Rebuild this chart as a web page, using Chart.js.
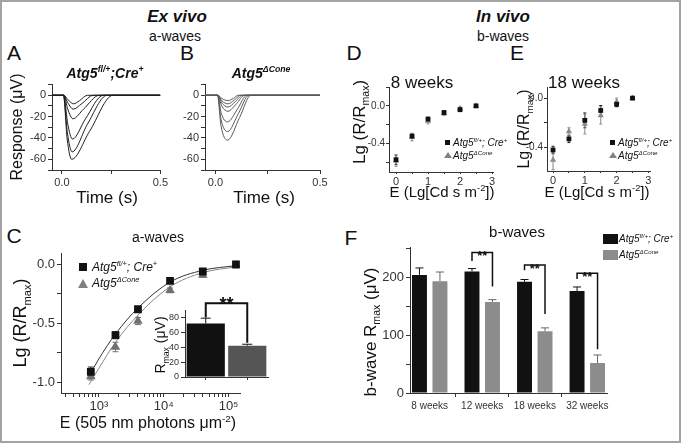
<!DOCTYPE html>
<html>
<head>
<meta charset="utf-8">
<script src="https://cdn.jsdelivr.net/npm/chart.js@4"></script>
<style>
  body { margin: 0; background: #fff; }
  #fig { position: relative; width: 681px; height: 443px; overflow: hidden; background: #fff;
         font-family: "Liberation Sans", Arial, sans-serif; color: #111; }
  #frame { position: absolute; left: 0; top: 0; width: 681px; height: 443px; box-sizing: border-box;
           border: 2px solid #a3a3a3; pointer-events: none; }
  canvas { position: absolute; }
  .t { position: absolute; white-space: nowrap; transform: translate(-50%, -50%); line-height: 1; }
  .rot { transform: translate(-50%, -50%) rotate(-90deg); }
  .l { position: absolute; white-space: nowrap; transform: translateY(-50%); line-height: 1; font-style: italic; }
  sup, sub { font-size: 62%; line-height: 0; }
  .bi { font-weight: bold; font-style: italic; }
  .sq { position: absolute; background: #111; }
  .tri { position: absolute; width: 0; height: 0; border-style: solid; border-color: transparent transparent #808080 transparent; }
</style>
</head>
<body>
<div id="fig">
  <canvas id="chartA"></canvas>
  <canvas id="chartB"></canvas>
  <canvas id="chartC"></canvas>
  <canvas id="chartInset"></canvas>
  <canvas id="chartD"></canvas>
  <canvas id="chartE"></canvas>
  <canvas id="chartF"></canvas>

  <!-- headings -->
  <div class="t bi" style="left:177px;top:16px;font-size:17px;">Ex vivo</div>
  <div class="t" style="left:175px;top:36px;font-size:14px;">a-waves</div>
  <div class="t bi" style="left:503px;top:16px;font-size:17px;">In vivo</div>
  <div class="t" style="left:503px;top:36px;font-size:14px;">b-waves</div>

  <div class="t" style="left:14px;top:52px;font-size:21px;">A</div>
  <div class="t" style="left:187px;top:52px;font-size:21px;">B</div>
  <div class="t" style="left:354px;top:52px;font-size:21px;">D</div>
  <div class="t" style="left:517px;top:52px;font-size:21px;">E</div>
  <div class="t" style="left:14px;top:235px;font-size:21px;">C</div>
  <div class="t" style="left:351px;top:237px;font-size:21px;">F</div>

  <div class="t bi" style="left:105px;top:73px;font-size:14px;">Atg5<sup>fl/+</sup>;Cre<sup>+</sup></div>
  <div class="t bi" style="left:261px;top:73px;font-size:14px;">Atg5<sup>ΔCone</sup></div>
  <div class="t" style="left:158px;top:237px;font-size:14px;">a-waves</div>
  <div class="t" style="left:422px;top:82px;font-size:17px;">8 weeks</div>
  <div class="t" style="left:584px;top:82px;font-size:17px;">18 weeks</div>
  <div class="t" style="left:517px;top:231px;font-size:15px;">b-waves</div>

  <!-- axis titles -->
  <div class="t rot" style="left:17px;top:127px;font-size:16px;">Response (μV)</div>
  <div class="t" style="left:107px;top:197px;font-size:17px;">Time (s)</div>
  <div class="t" style="left:264px;top:197px;font-size:17px;">Time (s)</div>
  <div class="t rot" style="left:20px;top:323px;font-size:18px;">Lg (R/R<sub>max</sub>)</div>
  <div class="t" style="left:148px;top:423px;font-size:16px;">E (505 nm photons μm<sup>-2</sup>)</div>
  <div class="t rot" style="left:160px;top:345px;font-size:14px;">R<sub>max</sub> (μV)</div>
  <div class="t rot" style="left:359px;top:122px;font-size:17px;">Lg (R/R<sub>max</sub>)</div>
  <div class="t" style="left:442px;top:191px;font-size:15px;">E (Lg[Cd s m<sup>-2</sup>])</div>
  <div class="t rot" style="left:524px;top:129px;font-size:16px;">Lg (R/R<sub>max</sub>)</div>
  <div class="t" style="left:597px;top:191px;font-size:15px;">E (Lg[Cd s m<sup>-2</sup>])</div>
  <div class="t rot" style="left:370px;top:332px;font-size:17px;">b-wave R<sub>max</sub> (μV)</div>

  <!-- legends -->
  <div class="sq" style="left:79px;top:263px;width:8px;height:8px;"></div>
  <div class="l" style="left:92px;top:267px;font-size:12px;">Atg5<sup>fl/+</sup>; Cre<sup>+</sup></div>
  <div class="tri" style="left:78px;top:279px;border-width:0 5px 9px 5px;"></div>
  <div class="l" style="left:92px;top:283px;font-size:12px;">Atg5<sup>ΔCone</sup></div>

  <div class="sq" style="left:445px;top:140px;width:5px;height:5px;"></div>
  <div class="l" style="left:453px;top:143px;font-size:10px;">Atg5<sup>fl/+</sup>; Cre<sup>+</sup></div>
  <div class="tri" style="left:444px;top:152px;border-width:0 4px 6px 4px;"></div>
  <div class="l" style="left:453px;top:156px;font-size:10px;">Atg5<sup>ΔCone</sup></div>

  <div class="sq" style="left:610px;top:140px;width:5px;height:5px;"></div>
  <div class="l" style="left:618px;top:143px;font-size:10px;">Atg5<sup>fl/+</sup>; Cre<sup>+</sup></div>
  <div class="tri" style="left:609px;top:152px;border-width:0 4px 6px 4px;"></div>
  <div class="l" style="left:618px;top:156px;font-size:10px;">Atg5<sup>ΔCone</sup></div>

  <div class="sq" style="left:603px;top:234px;width:15px;height:10px;"></div>
  <div class="l" style="left:619px;top:239px;font-size:10px;">Atg5<sup>fl/+</sup>; Cre<sup>+</sup></div>
  <div class="sq" style="left:603px;top:250px;width:15px;height:10px;background:#8c8c8c;"></div>
  <div class="l" style="left:619px;top:255px;font-size:10px;">Atg5<sup>ΔCone</sup></div>

  <div id="frame"></div>
</div>

<script>
const FONT = '"Liberation Sans", Arial, sans-serif';
Chart.defaults.font.family = FONT;

// ---------- data ----------
// A / B: ex vivo a-wave traces, [time (s), response (uV)]
const tracesA = [
  [[-0.05, 0], [0.01, 0], [0.03, -4], [0.06, -8], [0.09, -5], [0.13, 0], [0.5, 0]],
  [[-0.05, 0], [0.01, 0], [0.03, -7], [0.058, -13], [0.1, -8], [0.16, 0], [0.5, 0]],
  [[-0.05, 0], [0.01, 0], [0.03, -13], [0.056, -22], [0.11, -13], [0.19, 0], [0.5, 0]],
  [[-0.05, 0], [0.009, 0], [0.03, -27], [0.054, -41], [0.12, -22], [0.21, 0], [0.5, 0]],
  [[-0.05, 0], [0.008, 0], [0.028, -35], [0.052, -53], [0.13, -27], [0.23, 0], [0.5, 0]],
  [[-0.05, 0], [0.008, 0], [0.027, -41], [0.05, -60], [0.14, -34], [0.26, 0], [0.5, 0]],
];
const tracesB = [
  [[-0.05, 0], [0.012, 0], [0.03, -3], [0.06, -5], [0.085, -3], [0.11, 0], [0.5, 0]],
  [[-0.05, 0], [0.012, 0], [0.03, -5], [0.06, -8], [0.09, -4.5], [0.12, 0], [0.5, 0]],
  [[-0.05, 0], [0.012, 0], [0.03, -7], [0.06, -11], [0.095, -6], [0.13, 0], [0.5, 0]],
  [[-0.05, 0], [0.011, 0], [0.03, -10], [0.06, -15], [0.1, -8], [0.14, 0], [0.5, 0]],
  [[-0.05, 0], [0.01, 0], [0.028, -17], [0.058, -25], [0.105, -13], [0.15, 0], [0.5, 0]],
  [[-0.05, 0], [0.01, 0], [0.027, -23], [0.058, -34], [0.11, -17], [0.16, 0], [0.5, 0]],
  [[-0.05, 0], [0.01, 0], [0.026, -28], [0.058, -42], [0.115, -21], [0.17, 0], [0.5, 0]],
];

// C: a-wave intensity-response
const intensityC = [750, 1800, 4000, 12500, 40000, 130000];
const ctrlC = [-0.91, -0.60, -0.38, -0.14, -0.06, 0.0];
const ctrlCErr = [0.04, 0.03, 0.02, 0.01, 0.01, 0.02];
const coneC = [-0.95, -0.70, -0.48, -0.22, -0.09, -0.01];
const coneCErr = [0.03, 0.04, 0.03, 0.02, 0.02, 0.02];
const fitX = [700, 1000, 1800, 4000, 12500, 40000, 130000];
const fitCtrl = [-0.95, -0.80, -0.59, -0.37, -0.15, -0.05, -0.01];
const fitCone = [-1.02, -0.88, -0.66, -0.43, -0.19, -0.07, -0.02];

// C inset: a-wave Rmax
const insetGroups = ['Atg5fl/+; Cre+', 'Atg5ΔCone'];
const insetRmax = [72, 42];
const insetErr = [7, 2];
const insetSig = { left: 80, top: 99, right: 46 };

// D / E: b-wave intensity-response
const flashDE = [0, 0.5, 1, 1.5, 2, 2.5];
const ctrlD = [-0.57, -0.32, -0.14, -0.07, -0.04, 0.0];
const ctrlDErr = [0.05, 0.02, 0.02, 0.01, 0.02, 0.01];
const coneD = [-0.58, -0.33, -0.16, -0.08, -0.03, 0.0];
const coneDErr = [0.06, 0.04, 0.03, 0.02, 0.02, 0.01];
const ctrlE = [-0.42, -0.33, -0.18, -0.10, -0.05, 0.0];
const ctrlEErr = [0.03, 0.03, 0.06, 0.04, 0.02, 0.01];
const coneE = [-0.50, -0.27, -0.21, -0.14, -0.03, 0.0];
const coneEErr = [0.08, 0.03, 0.08, 0.07, 0.03, 0.01];

// F: b-wave Rmax by age
const weeksF = ['8 weeks', '12 weeks', '18 weeks', '32 weeks'];
const ctrlF = [205, 211, 193, 177];
const ctrlFErr = [12, 5, 4, 7];
const coneF = [194, 158, 107, 52];
const coneFErr = [16, 4, 6, 14];
const sigF = [
  { group: 1, left: 229, top: 244, right: 185 },
  { group: 2, left: 213, top: 222, right: 137 },
  { group: 3, left: 198, top: 208, right: 76 },
];

// tick values
const ticksTime = [0, 0.25, 0.5];
const ticksResp = [-70, -60, -50, -40, -30, -20, -10, 0, 10];
const ticksCY = [-1, -0.75, -0.5, -0.25, 0];
const ticksInsetY = [0, 20, 40, 60, 80];
const ticksDEX = [0, 0.5, 1, 1.5, 2, 2.5, 3];
const ticksDY = [-0.6, -0.4, -0.2, 0, 0.2];
const ticksEY = [-0.4, -0.2, 0];
const ticksFY = [0, 50, 100, 150, 200, 250];
const ticksFX = [0, 0.5, 1, 1.5, 2, 2.5, 3];

// ---------- plugins ----------
const errorBars = {
  id: 'errorBars',
  beforeDatasetsDraw(chart) {
    const ctx = chart.ctx;
    chart.data.datasets.forEach((ds, i) => {
      if (!ds.errors) return;
      const meta = chart.getDatasetMeta(i);
      const ys = chart.scales[meta.yAxisID];
      ctx.save();
      ctx.strokeStyle = ds.errColor || ds.borderColor;
      ctx.lineWidth = 1;
      meta.data.forEach((el, j) => {
        const raw = ds.data[j];
        const v = typeof raw === 'object' ? raw.y : raw;
        const top = ys.getPixelForValue(v + ds.errors[j]);
        const bot = ds.upOnly ? el.y : ys.getPixelForValue(v - ds.errors[j]);
        const cap = ds.capWidth || 2;
        ctx.beginPath();
        ctx.moveTo(el.x, top); ctx.lineTo(el.x, bot);
        ctx.moveTo(el.x - cap, top); ctx.lineTo(el.x + cap, top);
        if (!ds.upOnly) { ctx.moveTo(el.x - cap, bot); ctx.lineTo(el.x + cap, bot); }
        ctx.stroke();
      });
      ctx.restore();
    });
  }
};

const sigBrackets = {
  id: 'sigBrackets',
  afterDatasetsDraw(chart, args, opts) {
    if (!opts.items) return;
    const ctx = chart.ctx;
    const ys = chart.scales.y;
    opts.items.forEach(b => {
      const xa = chart.getDatasetMeta(b.dsA).data[b.idxA].x;
      const xb = chart.getDatasetMeta(b.dsB).data[b.idxB].x;
      const yl = ys.getPixelForValue(b.left);
      const yt = ys.getPixelForValue(b.top);
      const yr = ys.getPixelForValue(b.right);
      ctx.save();
      ctx.strokeStyle = '#111';
      ctx.lineWidth = opts.lineWidth;
      ctx.beginPath();
      ctx.moveTo(xa, yl); ctx.lineTo(xa, yt); ctx.lineTo(xb, yt); ctx.lineTo(xb, yr);
      ctx.stroke();
      ctx.fillStyle = '#111';
      ctx.font = opts.font;
      ctx.textAlign = 'center';
      ctx.textBaseline = 'alphabetic';
      ctx.fillText('**', (xa + xb) / 2, yt + opts.starDrop);
      ctx.restore();
    });
  }
};

// ---------- helpers ----------
const near = (list, v) => list.some(u => Math.abs(u - v) < 1e-9);

function axis(type, min, max, tickVals, label, size) {
  return {
    type, min, max,
    afterBuildTicks: s => { s.ticks = tickVals.map(v => ({ value: v })); },
    ticks: { callback: v => label(v), color: '#333', font: { size }, padding: 2, autoSkip: false, maxRotation: 0 },
    grid: { display: true, drawOnChartArea: false, drawTicks: true, tickLength: 4, tickColor: '#333' },
    border: { display: true, color: '#333', width: 1 }
  };
}

function makeChart(id, box, area, config) {
  const cv = document.getElementById(id);
  cv.width = box.w; cv.height = box.h;
  cv.style.left = box.x + 'px'; cv.style.top = box.y + 'px';
  cv.style.width = box.w + 'px'; cv.style.height = box.h + 'px';
  const o = config.options;
  o.responsive = false;
  o.animation = false;
  o.layout = { autoPadding: false, padding: { left: 0, bottom: 0, top: area.t - box.y, right: box.x + box.w - area.r } };
  o.scales.x.afterFit = s => { s.height = box.y + box.h - area.b; };
  o.scales.y.afterFit = s => { s.width = area.l - box.x; };
  o.plugins = Object.assign({ legend: { display: false }, tooltip: { enabled: false } }, o.plugins || {});
  config.plugins = [errorBars, sigBrackets];
  return new Chart(cv, config);
}

const toXY = (xs, ys) => xs.map((x, i) => ({ x, y: ys[i] }));
const traceSet = (list, color) => list.map(tr => ({
  data: tr.map(p => ({ x: p[0], y: p[1] })),
  showLine: true, borderColor: color, borderWidth: 1, pointRadius: 0,
  cubicInterpolationMode: 'monotone'
}));

// ---------- A & B ----------
const timeLabel = v => near([0, 0.5], v) ? v.toFixed(1) : '';
const respLabel = v => near([-60, -40, -20, 0], v) ? String(v) : '';

makeChart('chartA', { x: 10, y: 76, w: 160, h: 114 }, { l: 52, t: 81, r: 163, b: 170 }, {
  type: 'scatter',
  data: { datasets: traceSet(tracesA, '#1e1e1e') },
  options: { scales: {
    x: axis('linear', -0.05, 0.5, ticksTime, timeLabel, 11),
    y: axis('linear', -70, 10, ticksResp, respLabel, 11)
  } }
});

makeChart('chartB', { x: 170, y: 76, w: 160, h: 114 }, { l: 205, t: 81, r: 320, b: 170 }, {
  type: 'scatter',
  data: { datasets: traceSet(tracesB, '#5a5a5a') },
  options: { scales: {
    x: axis('linear', -0.05, 0.5, ticksTime, timeLabel, 11),
    y: axis('linear', -70, 10, ticksResp, respLabel, 11)
  } }
});

// ---------- C ----------
const powLabels = { 1000: '10³', 10000: '10⁴', 100000: '10⁵' };
const ticksCX = [];
[100, 1000, 10000, 100000].forEach(dec => {
  for (let m = 1; m <= 9; m++) { const v = m * dec; if (v >= 260 && v <= 150000) ticksCX.push(v); }
});

makeChart('chartC', { x: 25, y: 244, w: 225, h: 169 }, { l: 61, t: 249, r: 240, b: 393 }, {
  type: 'scatter',
  data: { datasets: [
    { data: toXY(intensityC, ctrlC), pointStyle: 'rect', pointRadius: 5.5, pointBorderWidth: 0, backgroundColor: '#111', borderColor: '#111',
      errors: ctrlCErr, errColor: '#222', capWidth: 3 },
    { data: toXY(intensityC, coneC), pointStyle: 'triangle', pointRadius: 5.5, pointBorderWidth: 0, backgroundColor: '#707070', borderColor: '#707070',
      errors: coneCErr, errColor: '#707070', capWidth: 3 },
    { data: toXY(fitX, fitCtrl), showLine: true, borderColor: '#333', borderWidth: 1, pointRadius: 0, cubicInterpolationMode: 'monotone' },
    { data: toXY(fitX, fitCone), showLine: true, borderColor: '#888', borderWidth: 1, pointRadius: 0, cubicInterpolationMode: 'monotone' }
  ] },
  options: { scales: {
    x: axis('logarithmic', 260, 150000, ticksCX, v => powLabels[v] || '', 13),
    y: axis('linear', -1.09, 0.09, ticksCY, v => near([-1, -0.5, 0], v) ? v.toFixed(1) : '', 13)
  } }
});

// inset
makeChart('chartInset', { x: 165, y: 290, w: 110, h: 95 }, { l: 185, t: 310, r: 268, b: 377 }, {
  type: 'bar',
  data: { labels: insetGroups, datasets: [
    { data: insetRmax, backgroundColor: ['#111', '#555'], errors: insetErr, upOnly: true, errColor: '#111', capWidth: 5,
      barPercentage: 0.92, categoryPercentage: 1 }
  ] },
  options: {
    scales: {
      x: Object.assign(axis('category', undefined, undefined, [0, 1], () => '', 9), {
        afterBuildTicks: undefined, offset: true, grid: { display: true, offset: false, drawOnChartArea: false, tickLength: 3, tickColor: '#333' }
      }),
      y: axis('linear', 0, 90, ticksInsetY, v => String(v), 9)
    },
    plugins: { sigBrackets: { items: [{ dsA: 0, idxA: 0, dsB: 0, idxB: 1, left: insetSig.left, top: insetSig.top, right: insetSig.right }],
                              font: 'bold 18px ' + FONT, starDrop: 7, lineWidth: 2 } }
  }
});

// ---------- D & E ----------
const deX = v => Number.isInteger(v) ? String(v) : '';
const deY = v => near([-0.4, 0], v) ? v.toFixed(1) : '';
function deSets(ctrl, ctrlErr, cone, coneErr) {
  return [
    { data: toXY(flashDE, ctrl), pointStyle: 'rect', pointRadius: 3.4, pointBorderWidth: 0, backgroundColor: '#111', borderColor: '#111',
      errors: ctrlErr, errColor: '#222', capWidth: 1.5 },
    { data: toXY(flashDE, cone), pointStyle: 'triangle', pointRadius: 3.6, pointBorderWidth: 0, backgroundColor: '#8a8a8a', borderColor: '#8a8a8a',
      errors: coneErr, errColor: '#8a8a8a', capWidth: 1.5 }
  ];
}
function deAxes(xmin, xmax, ymin, ymax, yTicks) {
  const x = axis('linear', xmin, xmax, ticksDEX, deX, 11);
  x.grid.tickLength = 2;
  x.ticks.padding = 1;
  const y = axis('linear', ymin, ymax, yTicks, deY, 10);
  y.grid.tickLength = 3;
  y.ticks.padding = 1;
  return { x, y };
}

makeChart('chartD', { x: 360, y: 80, w: 140, h: 112 }, { l: 389, t: 85, r: 493, b: 172 }, {
  type: 'scatter',
  data: { datasets: deSets(ctrlD, ctrlDErr, coneD, coneDErr) },
  options: { scales: deAxes(-0.22, 3.03, -0.7, 0.2, ticksDY) }
});

makeChart('chartE', { x: 518, y: 80, w: 140, h: 111 }, { l: 547, t: 85, r: 650, b: 171 }, {
  type: 'scatter',
  data: { datasets: deSets(ctrlE, ctrlEErr, coneE, coneEErr) },
  options: { scales: deAxes(-0.19, 3.05, -0.59, 0.09, ticksEY) }
});

// ---------- F ----------
const fx = axis('linear', -0.375, 3.375, ticksFX, v => Number.isInteger(v) ? weeksF[v] : '', 10);
fx.offset = false;
fx.grid.offset = false;
fx.grid.tickColor = c => (c.tick && Number.isInteger(c.tick.value)) ? 'rgba(0,0,0,0)' : '#333';
fx.ticks.padding = 3;

// bar slots are sized from the half-unit tick spacing, hence the wide categoryPercentage
makeChart('chartF', { x: 370, y: 238, w: 245, h: 172 }, { l: 410, t: 243, r: 607, b: 393 }, {
  type: 'bar',
  data: { datasets: [
    { data: toXY([0, 1, 2, 3], ctrlF), backgroundColor: '#111', errors: ctrlFErr, upOnly: true, errColor: '#111', capWidth: 4,
      barPercentage: 0.73, categoryPercentage: 1.56 },
    { data: toXY([0, 1, 2, 3], coneF), backgroundColor: '#8c8c8c', errors: coneFErr, upOnly: true, errColor: '#666', capWidth: 4,
      barPercentage: 0.73, categoryPercentage: 1.56 }
  ] },
  options: {
    scales: {
      x: fx,
      y: axis('linear', 0, 252, ticksFY, v => near([0, 100, 200], v) ? String(v) : '', 13)
    },
    plugins: { sigBrackets: { items: sigF.map(s => ({ dsA: 0, idxA: s.group, dsB: 1, idxB: s.group, left: s.left, top: s.top, right: s.right })),
                              font: 'bold 13px ' + FONT, starDrop: 8, lineWidth: 1.5 } }
  }
});
</script>
</body>
</html>
